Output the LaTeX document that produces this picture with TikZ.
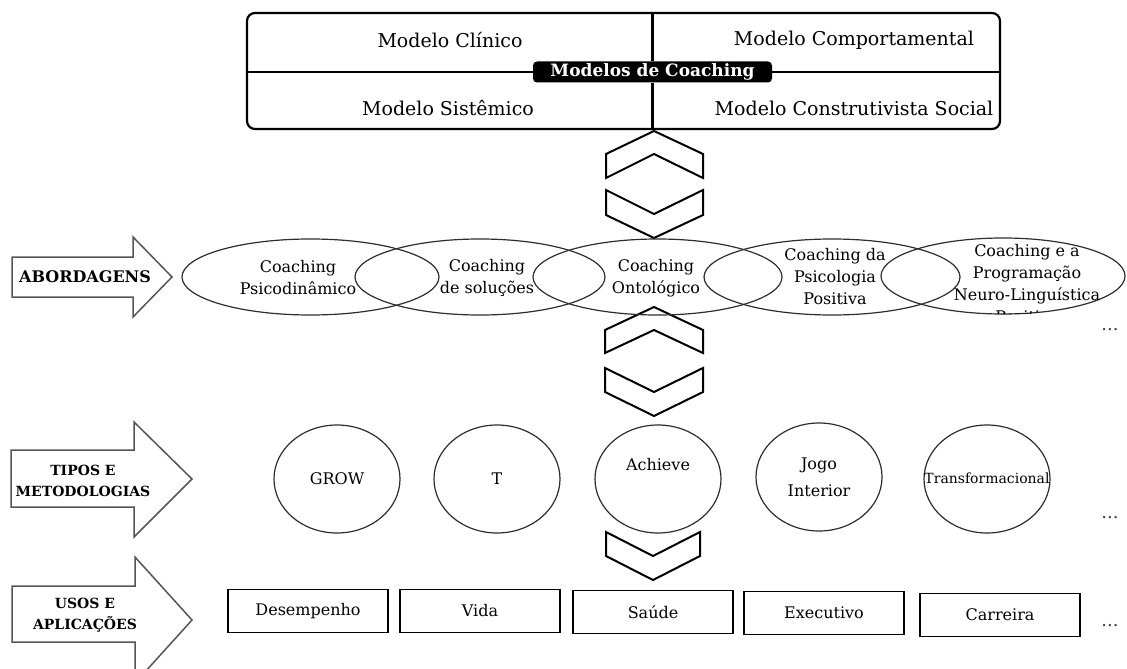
\documentclass[tikz,border=0pt]{standalone}
\usepackage{fontspec}
\setmainfont{DejaVu Serif}
\usepackage{tikz}
\usetikzlibrary{shapes.geometric, positioning}
\definecolor{arrowgray}{RGB}{85, 85, 85}
\definecolor{ringgray}{RGB}{45, 45, 45}

\begin{document}
\begin{tikzpicture}[
  x=0.5pt, y=-0.5pt,
  modelbox/.style={rectangle, rounded corners=4pt, draw=black, line width=1.1pt, inner sep=0pt, minimum width=376.5pt, minimum height=58pt},
  modeltxt/.style={font=\fontsize{9.5}{11}\selectfont},
  tagbox/.style={rectangle, rounded corners=2pt, fill=black, text=white, font=\fontsize{8.5}{10}\selectfont\bfseries, minimum width=119.5pt, minimum height=10.5pt, inner sep=0pt},
  chev/.style={draw=black, line width=1pt, line join=miter},
  sidearrow/.style={draw=arrowgray, line width=0.75pt},
  sidetxt/.style={font=\fontsize{7}{10.5}\selectfont\bfseries, align=center},
  ellip/.style={ellipse, draw=ringgray, line width=0.6pt, inner sep=0pt, minimum height=38pt},
  ellitxt/.style={font=\fontsize{8}{11}\selectfont, align=center},
  ring/.style={ellipse, draw=ringgray, line width=0.6pt, inner sep=0pt, minimum width=63pt, minimum height=54pt, font=\fontsize{8}{13.5}\selectfont, align=center},
  usebox/.style={rectangle, draw=black, line width=0.7pt, inner sep=0pt, minimum width=80pt, minimum height=21.5pt, font=\fontsize{8}{10}\selectfont},
  moredots/.style={font=\fontsize{9}{10}\selectfont, text=black!75}
]
\useasboundingbox (0,0) rectangle (1127,668);

% Modelos de Coaching
\node[modelbox] (models) at (623.5,71) {};
\node[tagbox] (tag) at (652.5,72) {Modelos de Coaching};
\draw[line width=1.1pt] (models.west |- tag.west) -- (tag.west);
\draw[line width=1.1pt] (tag.east) -- (models.east |- tag.east);
\draw[line width=1.1pt] (tag.north) -- (tag.north |- models.north);
\draw[line width=1.1pt] (tag.south) -- (tag.south |- models.south);
\node[modeltxt] (clinico) at (450,40) {Modelo Clínico};
\node[modeltxt] (comport) at (854,40) {Modelo Comportamental};
\node[modeltxt] (sistemico) at (448,108) {Modelo Sistêmico};
\node[modeltxt] (construt) at (854,108) {Modelo Construtivista Social};

% Chevrons
\draw[chev] (654,131) -- (703,154) -- (703,178) -- (654,154) -- (606,178) -- (606,154) -- cycle;
\draw[chev] (606,190) -- (654,214) -- (703,190) -- (703,215) -- (654,238) -- (606,215) -- cycle;
\draw[chev] (654,307) -- (703,330) -- (703,353) -- (654,330) -- (605,353) -- (605,330) -- cycle;
\draw[chev] (605,368) -- (654,392) -- (703,368) -- (703,392) -- (654,416) -- (605,392) -- cycle;
\draw[chev] (606,532) -- (653,556) -- (700,532) -- (700,556) -- (653,580) -- (606,556) -- cycle;

% Side arrows
\draw[sidearrow] (12,257) -- (133,257) -- (133,237) -- (172,277) -- (133,317) -- (133,297) -- (12,297) -- cycle;
\draw[sidearrow] (11,450) -- (134,450) -- (134,422) -- (192,479) -- (134,537) -- (134,507) -- (11,507) -- cycle;
\draw[sidearrow] (12,586) -- (135,586) -- (135,557) -- (192,620) -- (135,683) -- (135,642) -- (12,642) -- cycle;
\node[sidetxt, font=\fontsize{8}{10}\selectfont\bfseries] (abord) at (85,277) {ABORDAGENS};
\node[sidetxt] (tipos) at (83,481) {TIPOS E\\METODOLOGIAS};
\node[sidetxt] (usos) at (85,615) {USOS E\\APLICAÇÕES};

% Abordagens
\node[ellip, minimum width=128.5pt] (e1) at (310.5,277) {};
\node[ellip, minimum width=125pt] (e2) at (480,277) {};
\node[ellip, minimum width=124.5pt] (e3) at (657.5,277) {};
\node[ellip, minimum width=128pt] (e4) at (832,277) {};
\node[ellip, minimum width=122pt] (e5) at (1003,276) {};
\node[ellitxt] (psico) at (298,278) {Coaching\\Psicodinâmico};
\node[ellitxt] (solucoes) at (487,278) {Coaching\\de soluções};
\node[ellitxt] (onto) at (656,278) {Coaching\\Ontológico};
\node[ellitxt] (positiva) at (835,277) {Coaching da\\Psicologia\\Positiva};
\begin{scope}
  \clip (1003,276) ellipse [x radius=122, y radius=38];
  \node[ellitxt] (pnl) at (1027,284) {Coaching e a\\Programação\\Neuro-Linguística\\Positiva};
\end{scope}
\node[moredots] (dots1) at (1110,330) {...};

% Tipos e metodologias
\node[ring] (grow) at (337,479) {GROW};
\node[ring] (tmodel) at (497,479) {T};
\node[ring] (c3) at (658,479) {};
\node[ellitxt] (achieve) at (658,465) {Achieve};
\node[ring] (jogo) at (819,477) {Jogo\\Interior};
\node[ring] (c5) at (987,479) {};
\node[font=\fontsize{7}{8}\selectfont, inner sep=0pt] (transf) at (987,478) {Transformacional};
\node[moredots] (dots2) at (1110,518) {...};

% Usos e aplicacoes
\node[usebox] (desemp) at (308,611) {Desempenho};
\node[usebox] (vida) at (480,611) {Vida};
\node[usebox] (saude) at (653,612) {Saúde};
\node[usebox] (exec) at (824,613) {Executivo};
\node[usebox] (carreira) at (1000,615) {Carreira};
\node[moredots] (dots3) at (1110,626) {...};

\end{tikzpicture}
\end{document}
